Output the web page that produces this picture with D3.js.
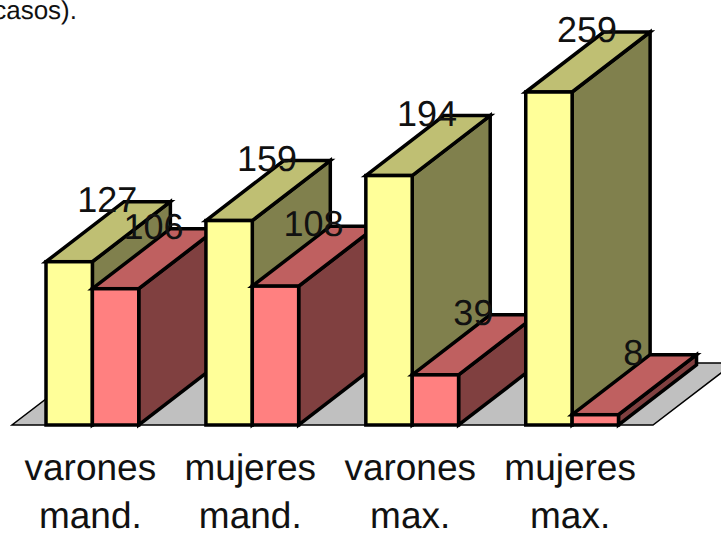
<!DOCTYPE html>
<html>
<head>
<meta charset="utf-8">
<script src="https://cdn.jsdelivr.net/npm/d3@7"></script>
<style>
  body { margin: 0; background: #fff; }
  svg { display: block; }
  text { font-family: "Liberation Sans", Arial, sans-serif; fill: #111; text-rendering: geometricPrecision; }
</style>
</head>
<body>
<div class="chart"></div>
<script>
const categories = ['varones mand.', 'mujeres mand.', 'varones max.', 'mujeres max.'];
const series = ['a', 'b'];
const valuesA = [127, 159, 194, 259];
const valuesB = [106, 108, 39, 8];
const caption = 'casos).';

const width = 721;
const height = 533;
const baseY = 425;

// oblique offset of the bar depth
const depthX = 78;
const depthY = 60;

const colors = {
  a: { front: '#FFFF99', top: '#BFBF73', side: '#80804D' },
  b: { front: '#FF8080', top: '#BF6060', side: '#804040' }
};

const svg = d3.select('.chart').append('svg')
  .attr('width', width)
  .attr('height', height);

const x0 = d3.scaleBand()
  .domain(categories)
  .range([46, 618.5])
  .paddingInner(0.42)
  .paddingOuter(0);

const x1 = d3.scaleBand()
  .domain(series)
  .range([0, x0.bandwidth()]);

const y = d3.scaleLinear()
  .domain([0, 259])
  .range([baseY, 92]);

const pts = p => p.map(d => d.join(',')).join(' ');

svg.append('text')
  .attr('x', 77)
  .attr('y', 19)
  .attr('text-anchor', 'end')
  .style('font-size', '26px')
  .text(caption);

// floor
svg.append('polygon')
  .attr('points', pts([[12, baseY], [653, baseY], [734, baseY - 62], [93, baseY - 62]]))
  .attr('fill', '#C0C0C0')
  .attr('stroke', '#000')
  .attr('stroke-width', 1.5);

const bars = [];
categories.forEach((c, i) => {
  bars.push({ cat: c, key: 'a', value: valuesA[i] });
  bars.push({ cat: c, key: 'b', value: valuesB[i] });
});

const bar = svg.selectAll('g.bar')
  .data(bars)
  .enter()
  .append('g')
  .attr('class', 'bar')
  .attr('stroke', '#000')
  .attr('stroke-width', 3.5)
  .attr('stroke-linejoin', 'miter');

const left = d => x0(d.cat) + x1(d.key);
const right = d => left(d) + x1.bandwidth();

bar.append('polygon')
  .attr('fill', d => colors[d.key].side)
  .attr('points', d => pts([
    [right(d), y(d.value)],
    [right(d) + depthX, y(d.value) - depthY],
    [right(d) + depthX, baseY - depthY],
    [right(d), baseY]
  ]));

bar.append('polygon')
  .attr('fill', d => colors[d.key].top)
  .attr('points', d => pts([
    [left(d), y(d.value)],
    [left(d) + depthX, y(d.value) - depthY],
    [right(d) + depthX, y(d.value) - depthY],
    [right(d), y(d.value)]
  ]));

bar.append('rect')
  .attr('fill', d => colors[d.key].front)
  .attr('x', left)
  .attr('y', d => y(d.value))
  .attr('width', x1.bandwidth())
  .attr('height', d => baseY - y(d.value));

// value labels sit above the middle of the top face
svg.selectAll('text.value')
  .data(bars)
  .enter()
  .append('text')
  .attr('class', 'value')
  .attr('x', d => left(d) + x1.bandwidth() / 2 + depthX / 2 - 1)
  .attr('y', d => y(d.value) - 50)
  .attr('text-anchor', 'middle')
  .style('font-size', '36px')
  .text(d => d.value);

const catLabel = svg.selectAll('text.cat')
  .data(categories)
  .enter()
  .append('text')
  .attr('class', 'cat')
  .attr('text-anchor', 'middle')
  .style('font-size', '37px');

catLabel.selectAll('tspan')
  .data(d => d.split(' ').map(t => ({ t, cat: d })))
  .enter()
  .append('tspan')
  .attr('x', d => x0(d.cat) + x0.bandwidth() / 2 - 2)
  .attr('y', (d, i) => 480 + i * 48)
  .text(d => d.t);
</script>
</body>
</html>
